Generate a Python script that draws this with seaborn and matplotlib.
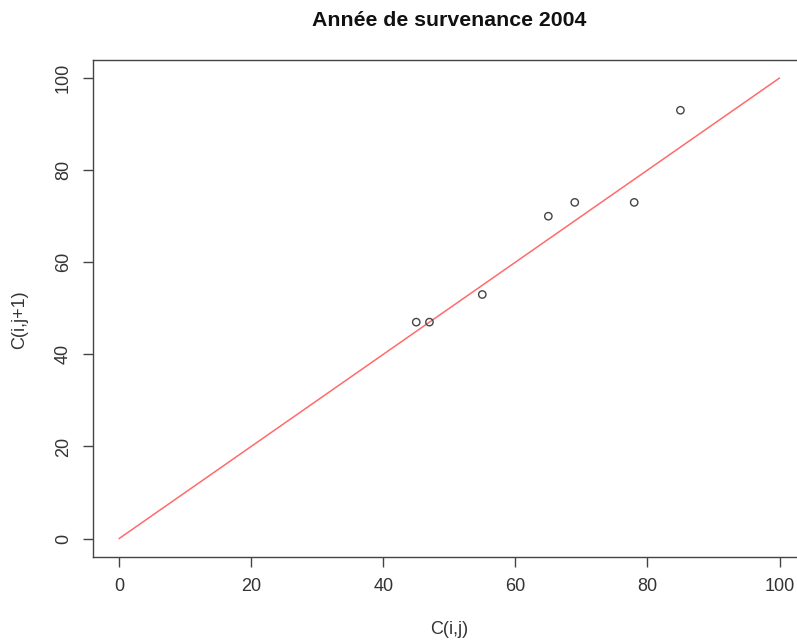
import matplotlib
matplotlib.use("Agg")
import matplotlib.pyplot as plt
import seaborn as sns
import pandas as pd

# Data
c_ij = [45, 47, 55, 65, 69, 78, 85]
c_ij1 = [47, 47, 53, 70, 73, 73, 93]
ref_x = [0, 100]
ref_y = [0, 100]
ticks = [0, 20, 40, 60, 80, 100]

sns.set_style("white")
plt.rcParams['font.family'] = ['Liberation Sans', 'DejaVu Sans']

fig = plt.figure(figsize=(7.97, 6.43), dpi=100)
ax = fig.add_axes([0.1162, 0.1337, 0.895, 0.7736])

pts = pd.DataFrame({"x": c_ij, "y": c_ij1})
line = pd.DataFrame({"x": ref_x, "y": ref_y})

sns.lineplot(data=line, x="x", y="y", ax=ax, color="#ff6b6b", linewidth=1.1)
sns.scatterplot(data=pts, x="x", y="y", ax=ax, marker="o", s=28,
                facecolor="none", edgecolor="#444444", linewidth=1.0, zorder=3)

ax.set_xlim(-4, 104)
ax.set_ylim(-4, 104)
ax.set_xticks(ticks)
ax.set_yticks(ticks)
ax.set_xticklabels([str(t) for t in ticks], fontsize=13, color="#333333")
ax.set_yticklabels([str(t) for t in ticks], fontsize=13, color="#333333",
                   rotation=90, va="center")
ax.tick_params(axis="both", direction="out", length=7, width=1, color="#444444",
               pad=8, bottom=True, left=True)
for sp in ax.spines.values():
    sp.set_visible(True)
    sp.set_color("#444444")
    sp.set_linewidth(1)

ax.set_xlabel("")
ax.set_ylabel("")
fig.text(449 / 797, 1 - 630 / 643, "C(i,j)", ha="center", va="center",
         fontsize=13, color="#333333")
fig.text(20 / 797, 1 - 320 / 643, "C(i,j+1)", ha="center", va="center",
         fontsize=13, color="#333333", rotation=90)
fig.text(449 / 797, 1 - 20 / 643, "Année de survenance 2004", ha="center",
         va="center", fontsize=15.3, fontweight="bold", color="#111111")

fig.savefig("out.png", dpi=100)
